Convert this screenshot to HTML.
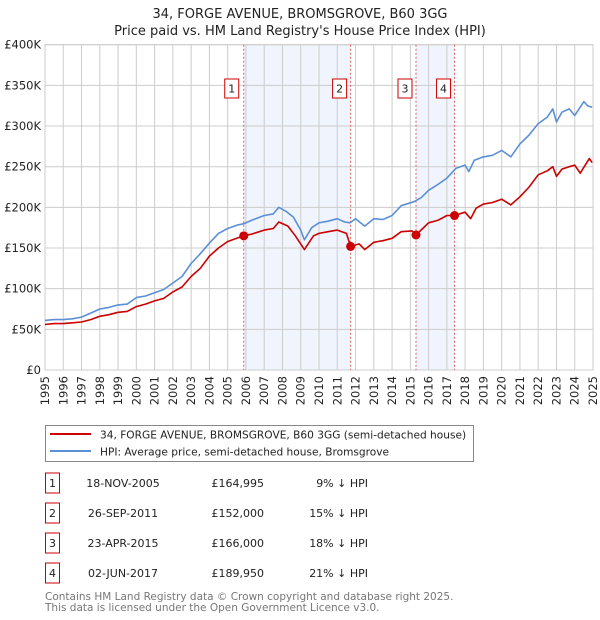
<!DOCTYPE html>
<html><head><meta charset="utf-8"><style>
body{margin:0;background:#fff;font-family:"DejaVu Sans","Liberation Sans",sans-serif;}
svg{display:block}
</style></head><body>
<svg id="chart" width="600" height="620" xmlns="http://www.w3.org/2000/svg" font-family="DejaVu Sans, Liberation Sans, sans-serif">
<text x="300" y="18" text-anchor="middle" font-size="13" fill="#222">34, FORGE AVENUE, BROMSGROVE, B60 3GG</text>
<text x="300" y="35" text-anchor="middle" font-size="13" fill="#222">Price paid vs. HM Land Registry's House Price Index (HPI)</text>
<g id="plot"></g>
<g>
<rect x="45.5" y="425.5" width="428" height="36" fill="#fff" stroke="#888"/>
<line x1="50" y1="434" x2="91" y2="434" stroke="#cc0000" stroke-width="2"/>
<text x="100" y="438.5" font-size="10.6" fill="#222">34, FORGE AVENUE, BROMSGROVE, B60 3GG (semi-detached house)</text>
<line x1="50" y1="451" x2="91" y2="451" stroke="#5b8fd6" stroke-width="2"/>
<text x="100" y="455.5" font-size="10.6" fill="#222">HPI: Average price, semi-detached house, Bromsgrove</text>
</g>
<g id="table" font-size="11" fill="#222"></g>
<text x="45" y="600" font-size="10.5" fill="#777">Contains HM Land Registry data © Crown copyright and database right 2025.</text>
<text x="45" y="611" font-size="10.5" fill="#777">This data is licensed under the Open Government Licence v3.0.</text>
</svg>
<script>
const hpiYears=[1995,1995.5,1996,1996.5,1997,1997.5,1998,1998.5,1999,1999.5,2000,2000.5,2001,2001.5,2002,2002.5,2003,2003.5,2004,2004.5,2005,2005.5,2005.9,2006.3,2007,2007.5,2007.8,2008.2,2008.6,2009.0,2009.2,2009.6,2010,2010.5,2011,2011.4,2011.7,2012,2012.5,2013,2013.5,2014,2014.5,2015.2,2015.6,2016,2016.5,2017,2017.5,2018,2018.2,2018.5,2019,2019.5,2020,2020.5,2021,2021.5,2022,2022.5,2022.8,2023,2023.3,2023.7,2024,2024.5,2024.7,2024.95];
const hpiValues=[61,62,62,63,65,70,75,77,80,81,89,91,95,99,107,115,131,143,156,168,174,178,180,184,190,192,200,195,188,172,160,175,181,183,186,182,181,186,177,186,185,190,202,207,212,221,228,236,248,252,244,258,262,264,270,262,278,289,303,311,321,305,317,321,313,330,325,323];
const priceYears=[1995,1995.5,1996,1996.5,1997,1997.5,1998,1998.5,1999,1999.5,2000,2000.5,2001,2001.5,2002,2002.5,2003,2003.5,2004,2004.5,2005,2005.5,2005.88,2006.3,2007,2007.5,2007.8,2008.3,2008.7,2009.0,2009.2,2009.7,2010,2010.5,2011,2011.5,2011.73,2012.2,2012.5,2013,2013.5,2014,2014.5,2015.1,2015.31,2016,2016.5,2017,2017.42,2018,2018.3,2018.6,2019,2019.5,2020,2020.5,2021,2021.5,2022,2022.5,2022.8,2023,2023.3,2023.7,2024,2024.3,2024.8,2024.95];
const priceValues=[56,57,57,58,59,62,66,68,71,72,78,81,85,88,96,102,115,125,140,150,158,162,165,167,172,174,182,177,165,155,148,165,168,170,172,168,152,155,148,157,159,162,170,171,166,181,184,190,190,194,186,199,204,206,210,203,213,225,240,245,250,238,247,250,252,242,260,255];
const saleYears=[2005.88,2011.73,2015.31,2017.42];
const saleValues=[164.995,152,166,189.95];
const saleLabels=["1","2","3","4"];
const saleDates=["18-NOV-2005","26-SEP-2011","23-APR-2015","02-JUN-2017"];
const salePrices=["£164,995","£152,000","£166,000","£189,950"];
const saleDiffs=["9% ↓ HPI","15% ↓ HPI","18% ↓ HPI","21% ↓ HPI"];
const yTicks=[0,50,100,150,200,250,300,350,400];
const yTickLabels=["£0","£50K","£100K","£150K","£200K","£250K","£300K","£350K","£400K"];
const xTicks=[1995,1996,1997,1998,1999,2000,2001,2002,2003,2004,2005,2006,2007,2008,2009,2010,2011,2012,2013,2014,2015,2016,2017,2018,2019,2020,2021,2022,2023,2024,2025];

const X0=45,X1=593,Y0=370,Y1=44.7;
const xs=y=>X0+(y-1995)/30*(X1-X0);
const ys=v=>Y0-v/400*(Y0-Y1);
const NS="http://www.w3.org/2000/svg";
const plot=document.getElementById('plot');
function mk(tag,attrs,parent){const e=document.createElementNS(NS,tag);for(const k in attrs)e.setAttribute(k,attrs[k]);(parent||plot).appendChild(e);return e;}

[[0,1],[2,3]].forEach((p,i)=>{
  const r=mk('rect',{x:xs(saleYears[p[0]]),y:Y1,width:xs(saleYears[p[1]])-xs(saleYears[p[0]]),height:Y0-Y1,fill:'#f0f4fd'});
  
  
});
xTicks.forEach(t=>{
  const l=mk('line',{x1:xs(t),x2:xs(t),y1:Y1,y2:Y0,stroke:'#cccccc','stroke-width':1});
  
  
  const tx=mk('text',{x:0,y:0,'font-size':11.5,fill:'#222','text-anchor':'end',transform:`translate(${xs(t)+4},${Y0+6}) rotate(-90)`});
  tx.textContent=t;
  
  
});
yTicks.forEach((t,i)=>{
  const l=mk('line',{x1:X0,x2:X1,y1:ys(t),y2:ys(t),stroke:'#cccccc','stroke-width':1});
  
  
  const tx=mk('text',{x:X0-4,y:ys(t)+4,'font-size':11.5,fill:'#222','text-anchor':'end'});
  tx.textContent=yTickLabels[i];
  
  
});
const fr=mk('rect',{x:X0,y:Y1,width:X1-X0,height:Y0-Y1,fill:'none',stroke:'#cccccc'});


saleYears.forEach((y,i)=>{
  const l=mk('line',{x1:xs(y),x2:xs(y),y1:Y1,y2:Y0,stroke:'#e06060','stroke-width':1,'stroke-dasharray':'2,2'});
  
  
  const bx=xs(y)-(i==0?5:4)-14;
  const g=mk('g',{});
  
  
  mk('rect',{x:bx,y:79,width:14,height:19,fill:'#fff',stroke:'#cc0000'},g);
  const t=mk('text',{x:bx+7,y:92.5,'font-size':11,'text-anchor':'middle',fill:'#222'},g);
  t.textContent=saleLabels[i];
});
function path(xa,va,color,name){
  const d=xa.map((y,i)=>(i?'L':'M')+xs(y).toFixed(1)+','+ys(va[i]).toFixed(1)).join('');
  const p=mk('path',{d:d,fill:'none',stroke:color,'stroke-width':1.6,'stroke-linejoin':'round'});
  
  
}
path(hpiYears,hpiValues,'#5b8fd6','hpi-line');
path(priceYears,priceValues,'#cc0000','price-paid-line');
saleYears.forEach((y,i)=>{
  const c=mk('circle',{cx:xs(y),cy:ys(saleValues[i]),r:4.5,fill:'#cc0000'});
  
  
});
const tb=document.getElementById('table');
saleLabels.forEach((lab,i)=>{
  const cy=483+i*30;
  const g=mk('g',{},tb);
  
  
  mk('rect',{x:45.5,y:cy-10,width:14,height:20,fill:'#fff',stroke:'#cc0000'},g);
  const t0=mk('text',{x:52.5,y:cy+4,'text-anchor':'middle'},g);t0.textContent=lab;
  const t1=mk('text',{x:123,y:cy+4,'text-anchor':'middle'},g);t1.textContent=saleDates[i];
  const t2=mk('text',{x:264,y:cy+4,'text-anchor':'end'},g);t2.textContent=salePrices[i];
  const t3=mk('text',{x:368,y:cy+4,'text-anchor':'end'},g);t3.textContent=saleDiffs[i];
});
</script>
</body></html>
